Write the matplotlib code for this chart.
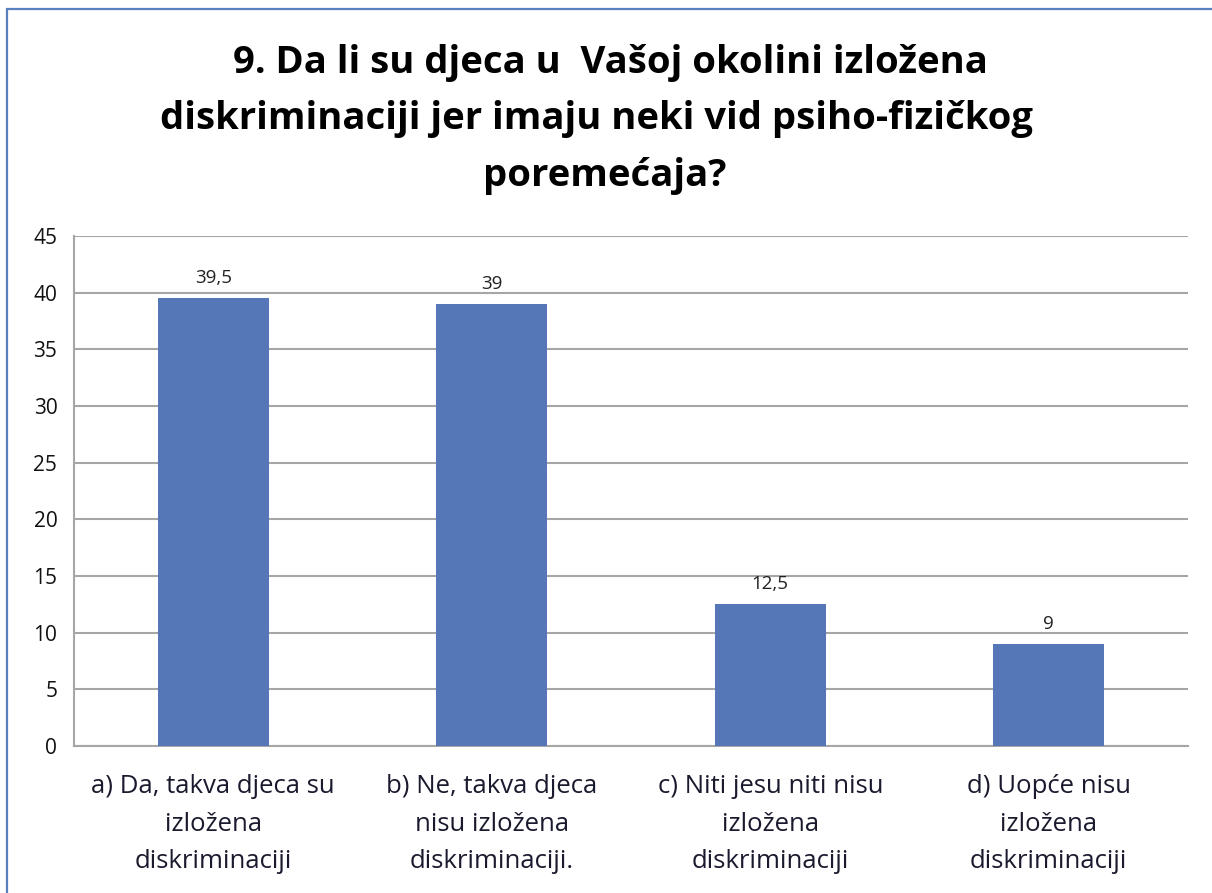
import matplotlib.pyplot as plt
from matplotlib.patches import Rectangle

plt.rcParams['font.family'] = ['Open Sans', 'DejaVu Sans']

categories = ["a) Da, takva djeca su\nizložena\ndiskriminaciji",
              "b) Ne, takva djeca\nnisu izložena\ndiskriminaciji.",
              "c) Niti jesu niti nisu\nizložena\ndiskriminaciji",
              "d) Uopće nisu\nizložena\ndiskriminaciji"]
values = [39.5, 39, 12.5, 9]
value_labels = ["39,5", "39", "12,5", "9"]
yticks = [0, 5, 10, 15, 20, 25, 30, 35, 40, 45]

title_lines = ["9. Da li su djeca u  Vašoj okolini izložena",
               "diskriminaciji jer imaju neki vid psiho-fizičkog",
               "poremećaja?"]

fig = plt.figure(figsize=(12.12, 8.93), dpi=100)

# outer chart border (cut off at right/bottom like the screenshot)
fig.patches.append(Rectangle((7 / 1212, -0.05), 1.2, 1 - 9 / 893 + 0.05,
                             transform=fig.transFigure, fill=False,
                             edgecolor='#5B80C0', linewidth=1.6))

ax = fig.add_axes([74 / 1212, 147 / 893, 1114 / 1212, 510 / 893])

x = range(len(values))
ax.bar(x, values, width=0.4, color='#5577B8', zorder=3)
for i, (v, lab) in enumerate(zip(values, value_labels)):
    ax.text(i, v + 1.0, lab, ha='center', va='bottom', fontsize=13.5, color='#222222')

ax.set_xlim(-0.5, len(values) - 0.5)
ax.set_ylim(0, 45)
ax.set_yticks(yticks)
ax.set_yticklabels([str(t) for t in yticks], fontsize=15, color='#111111')
ax.set_xticks(list(x))
ax.set_xticklabels(categories, fontsize=18.5, color='#1a1a2e', linespacing=1.67)
ax.tick_params(axis='both', length=0)
ax.tick_params(axis='y', pad=12)
ax.tick_params(axis='x', pad=20)

ax.yaxis.grid(True, color='#a6a6a6', linewidth=1.5, zorder=0)
for s in ['top', 'right']:
    ax.spines[s].set_visible(False)
for s in ['left', 'bottom']:
    ax.spines[s].set_color('#a6a6a6')
    ax.spines[s].set_linewidth(1.5)

# title, one line at a time (centres as in the original)
title_x = [610, 597, 605]
title_y = [63, 119, 176]
for line, tx, ty in zip(title_lines, title_x, title_y):
    fig.text(tx / 1212, 1 - ty / 893, line, ha='center', va='center',
             fontsize=27.5, fontweight='bold', color='black')

fig.savefig('out.png', dpi=100)
